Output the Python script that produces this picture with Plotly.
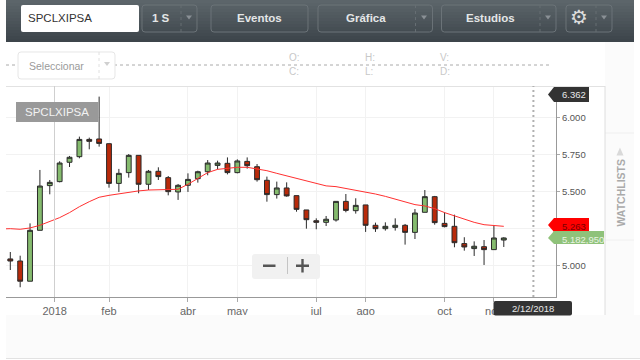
import plotly.graph_objects as go

# ---------- data (weekly bars) ----------
opens = [5043,5029,4892,5237,5540,5567,5698,5736,5853,5856,5824,5555,5628,5745,5549,5637,5594,
         5497,5542,5587,5634,5677,5691,5628,5704,5668,5576,5479,5524,5472,5375,5302,5291,
         5307,5433,5370,5409,5271,5248,5257,5271,5223,5359,5465,5284,5264,5147,5113,5126,5106,5171]
highs = [5090,5065,5284,5646,5578,5705,5741,5872,5865,6143,5826,5653,5754,5745,5646,5664,5605,
         5551,5623,5641,5713,5709,5731,5718,5731,5686,5601,5567,5562,5472,5375,5318,5334,
         5433,5483,5454,5409,5289,5291,5318,5280,5381,5510,5470,5359,5343,5190,5162,5171,5269,5190]
lows = [4968,4851,4892,5237,5481,5562,5666,5725,5786,5804,5526,5497,5594,5488,5510,5578,5474,
        5443,5497,5560,5610,5650,5616,5623,5655,5567,5431,5452,5465,5363,5248,5244,5266,
        5296,5359,5350,5226,5226,5235,5235,5140,5178,5359,5275,5257,5122,5099,5063,5002,5106,5124]
closes = [5029,4892,5237,5537,5562,5693,5732,5853,5840,5826,5555,5623,5745,5549,5637,5601,5499,
          5542,5582,5634,5693,5693,5628,5707,5675,5580,5479,5524,5470,5379,5309,5291,5312,
          5433,5372,5406,5271,5248,5264,5271,5223,5354,5465,5289,5262,5153,5124,5129,5106,5185,5185]
sma = [5246,5248,5244,5253,5271,5296,5323,5357,5397,5431,5461,5474,5485,5497,5504,5510,5512,5512,
       5515,5549,5587,5628,5650,5659,5664,5664,5655,5641,5623,5605,5587,5573,5555,5538,
       5533,5521,5510,5499,5483,5467,5447,5427,5411,5402,5384,5357,5334,5311,5291,5275,5271,5264]
week_index = list(range(len(opens)))
sma_index = list(range(-1, len(opens)))
x_tick_vals = [4.5, 10, 18, 23, 31, 36, 44, 49]
x_tick_text = ["2018", "feb", "abr", "may", "jul", "ago", "oct", "nov"]
y_tick_vals = [5000, 5250, 5500, 5750, 6000]
y_tick_text = ["5.000", "", "5.500", "5.750", "6.000"]
cursor_index = 53

# ---------- layout geometry ----------
L, R, T, B = 6, 556, 86, 297
FONT = "Liberation Sans"
def px(x): return (x - L) / (R - L)
def py(y): return (B - y) / (B - T)

shapes, notes = [], []
def poly(points, fill, line=None, lw=1, close=True):
    d = "M" + " L".join(f"{px(x):.5f},{py(y):.5f}" for x, y in points) + (" Z" if close else "")
    shapes.append(dict(type="path", path=d, xref="paper", yref="paper", fillcolor=fill,
                       line=dict(color=line or "rgba(0,0,0,0)", width=lw if line else 0)))
def rect(x0, y0, x1, y1, fill, line=None, lw=1):
    poly([(x0, y0), (x1, y0), (x1, y1), (x0, y1)], fill, line, lw)
def rrect(x0, y0, x1, y1, r, fill, line=None, lw=1):
    d = (f"M{px(x0+r):.5f},{py(y0):.5f} L{px(x1-r):.5f},{py(y0):.5f} "
         f"Q{px(x1):.5f},{py(y0):.5f} {px(x1):.5f},{py(y0+r):.5f} "
         f"L{px(x1):.5f},{py(y1-r):.5f} Q{px(x1):.5f},{py(y1):.5f} {px(x1-r):.5f},{py(y1):.5f} "
         f"L{px(x0+r):.5f},{py(y1):.5f} Q{px(x0):.5f},{py(y1):.5f} {px(x0):.5f},{py(y1-r):.5f} "
         f"L{px(x0):.5f},{py(y0+r):.5f} Q{px(x0):.5f},{py(y0):.5f} {px(x0+r):.5f},{py(y0):.5f} Z")
    shapes.append(dict(type="path", path=d, xref="paper", yref="paper", fillcolor=fill,
                       line=dict(color=line or "rgba(0,0,0,0)", width=lw if line else 0)))
def hline(x0, x1, y, color, lw=1, dash="solid"):
    shapes.append(dict(type="line", xref="paper", yref="paper", x0=px(x0), x1=px(x1), y0=py(y), y1=py(y),
                       line=dict(color=color, width=lw, dash=dash)))
def vline(x, y0, y1, color, lw=1, dash="solid"):
    shapes.append(dict(type="line", xref="paper", yref="paper", x0=px(x), x1=px(x), y0=py(y0), y1=py(y1),
                       line=dict(color=color, width=lw, dash=dash)))
def text(x, y, s, size=10, color="#555", anchor="center", bold=False, angle=0, family=FONT):
    notes.append(dict(xref="paper", yref="paper", x=px(x), y=py(y), text=f"<b>{s}</b>" if bold else s,
                      showarrow=False, xanchor=anchor, yanchor="middle", textangle=angle, borderpad=0, borderwidth=0,
                      font=dict(family=family, size=size, color=color)))
def tri(x, y, color="#8a9095"):
    poly([(x-3, y-2), (x+3, y-2), (x, y+2)], color)

# page areas
rect(6, 315, 640, 358, "#fbfbfb")
rect(605, 42, 634, 358, "#fbfbfb")
hline(6, 640, 358.5, "#e2e2e2")
hline(605, 634, 133, "#efefef")
hline(605, 634, 240, "#f0f0f0")
hline(6, 605, 86.5, "#e2e2e2")
vline(605, 86, 315, "#dedede")

# toolbar
top = (92, 101, 106)
bot = (60, 68, 74)
for y in range(0, 42, 3):
    t = y / 40
    col = "rgb(%d,%d,%d)" % tuple(round(a + (b - a) * t) for a, b in zip(top, bot))
    rect(6, y, 634, min(y + 3.5, 42), col)
edge = "#6b7378"
rrect(21, 5, 139, 32, 2, "#ffffff")
text(28, 18, "SPCLXIPSA", 11.5, "#333", "left")
for x0, x1, label, cx, div in [(142, 197, "1 S", 161, 181), (211, 308, "Eventos", 259, None),
                               (318, 432.5, "Gráfica", 366, 415.5), (441.5, 556, "Estudios", 490, 540),
                               (566, 612, "", 0, 596)]:
    rrect(x0, 5, x1, 32, 3, "rgba(0,0,0,0)", edge)
    if label:
        text(cx, 18, label, 11.5, "#e4e6e7", bold=True)
    if div:
        vline(div, 5, 32, "#666e73", dash="dot")
        tri((div + x1) / 2, 17.5)
text(579, 17, "⚙", 20, "#dddddd", family="DejaVu Sans")

# info strip
hline(6, 550, 65, "#aaaaaa", dash="3px,3px")
rrect(18, 52, 115, 79, 3, "#ffffff", "#e6e6e6")
text(29, 65.5, "Seleccionar", 10.5, "#9a9a9a", "left")
vline(99, 52, 79, "#e0e0e0", dash="dot")
tri(107, 64, "#d0d0d0")
for x, y, s in [(289, 57, "O:"), (289, 71, "C:"), (365, 57, "H:"), (365, 71, "L:"), (440, 57, "V:"), (440, 71, "D:")]:
    text(x, y, s, 10, "#c8c8c8", "left")

# chart decorations
vline(54.5, 86, 297, "#cfcfcf")
shapes.append(dict(type="line", xref="x", yref="paper", x0=cursor_index, x1=cursor_index, y0=0, y1=1,
                   line=dict(color="#b0b0b0", width=2, dash="2px,3px")))
rect(16, 102, 98.5, 122, "#999999")
text(57, 112, "SPCLXIPSA", 11.5, "#f2f2f2")

# zoom control
rrect(252, 254, 320, 279, 3, "#f1f1f1")
vline(287.5, 257, 274, "#c4c4c4")
rect(263, 264.5, 275.5, 267, "#555555")
rect(296, 264.5, 309, 267, "#555555")
rect(301.3, 259, 303.7, 272.5, "#555555")

# price tags
poly([(548, 94.5), (554, 87), (589, 87), (589, 102), (554, 102)], "#333333")
text(561.5, 94.5, "6.362", 9.5, "#e8e8e8", "left")
poly([(548, 225), (554, 218), (589, 218), (589, 232), (554, 232)], "#ff0000")
text(561.5, 226, "5.263", 9.5, "#7a0000", "left")
poly([(548, 238), (554, 231), (604, 231), (604, 244), (554, 244)], "#8fc27a")
text(561.5, 239, "5.182,950", 9.5, "#e8f3e2", "left")

# date badge
rrect(493.5, 301, 572, 315.5, 2, "#333333")
text(532.5, 308.5, "2/12/2018", 9.5, "#e8e8e8")

# watchlists
text(620, 193.5, "WATCHLISTS", 10.5, "#aaaaaa", bold=True, angle=-90)
poly([(620, 147.5), (623.5, 155.5), (616.5, 155.5)], "#d9d9d9")

fig = go.Figure()
fig.add_trace(go.Candlestick(
    x=week_index, open=opens, high=highs, low=lows, close=closes,
    increasing=dict(line=dict(color="#2a2a2a", width=1), fillcolor="#85bb6e"),
    decreasing=dict(line=dict(color="#2a2a2a", width=1), fillcolor="#b82a0a"),
    hoverinfo="skip"))
fig.add_trace(go.Scatter(x=sma_index, y=sma, mode="lines", line=dict(color="#ff3030", width=1), hoverinfo="skip"))

fig.update_layout(
    width=640, height=360, autosize=False,
    margin=dict(l=L, r=640 - R, t=T, b=360 - B, pad=0),
    paper_bgcolor="#ffffff", plot_bgcolor="rgba(0,0,0,0)",
    showlegend=False, hovermode=False, shapes=shapes, annotations=notes,
    font=dict(family=FONT, size=10.5, color="#555555"),
    xaxis=dict(range=[-0.436, 55.29], rangeslider=dict(visible=False), tickmode="array",
               tickvals=x_tick_vals, ticktext=x_tick_text, showgrid=True, gridcolor="#f2f2f2", gridwidth=1,
               ticks="outside", ticklen=4, tickcolor="#aaaaaa", showline=True, linecolor="#999999", zeroline=False,
               tickfont=dict(size=11, color="#666666", family=FONT)),
    yaxis=dict(range=[4785, 6215], side="right", tickmode="array", tickvals=y_tick_vals, ticktext=y_tick_text,
               showgrid=True, gridcolor="#f2f2f2", gridwidth=1, ticks="outside", ticklen=3, tickcolor="#aaaaaa",
               showline=True, linecolor="#999999", zeroline=False,
               tickfont=dict(size=9.5, color="#555555", family=FONT)),
)

fig.write_html("out.html", config=dict(displayModeBar=False),
               post_script="document.body.style.margin='0';document.body.style.overflow='hidden';")
